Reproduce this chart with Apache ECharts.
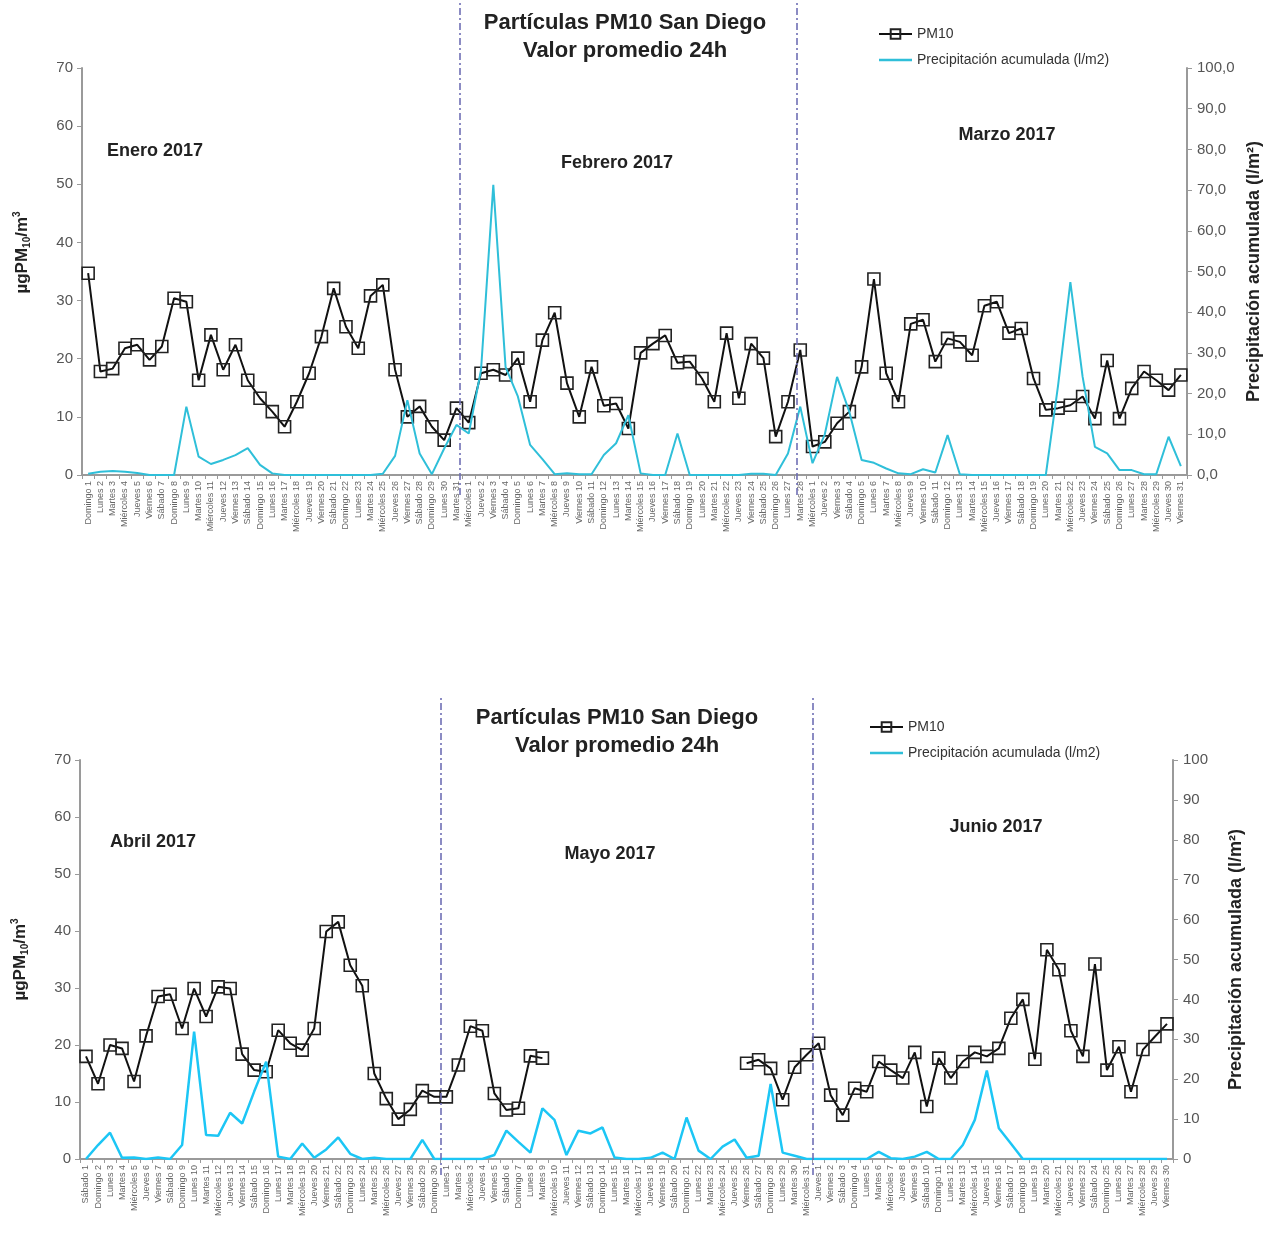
<!DOCTYPE html>
<html>
<head>
<meta charset="utf-8">
<script src="https://cdn.jsdelivr.net/npm/echarts@6/dist/echarts.min.js"></script>
<style>
html,body{margin:0;padding:0;background:#fff;}
#chart{width:1274px;height:1247px;}
</style>
</head>
<body>
<div id="chart"></div>
<script>
// ---------- labels ----------
const WEEKDAYS = ["Domingo","Lunes","Martes","Miércoles","Jueves","Viernes","Sábado"];
const monthsTop = [31, 28, 31];      // Enero, Febrero, Marzo 2017
const startWeekdayTop = 0;           // 1 enero 2017 = domingo
const monthsBottom = [30, 31, 30];   // Abril, Mayo, Junio 2017
const startWeekdayBottom = 6;        // 1 abril 2017 = sábado

const monthLabelsTop = ["Enero 2017", "Febrero 2017", "Marzo 2017"];
const monthLabelsBottom = ["Abril 2017", "Mayo 2017", "Junio 2017"];

const leftTicks = [0, 70, 10];
const rightTicks = [0, 100, 10];

// ---------- data: enero-marzo ----------
const pm10Jan = [34.7,17.8,18.3,21.8,22.4,19.8,22.1,30.4,29.8,16.3,24.1,18.1,22.4,16.3,13.2,10.9,8.3,12.6,17.5,23.8,32.1,25.5,21.8,30.8,32.7,18.1,10.0,11.8,8.3,6.0,11.5];
const pm10Feb = [9.0,17.5,18.1,17.2,20.1,12.6,23.2,27.9,15.8,10.0,18.6,11.9,12.3,8.0,21.0,22.6,24.0,19.3,19.5,16.6,12.6,24.4,13.2,22.6,20.1,6.6,12.6,21.5];
const pm10Mar = [4.9,5.7,8.9,10.9,18.6,33.7,17.5,12.6,26.0,26.7,19.5,23.5,22.9,20.6,29.1,29.8,24.4,25.2,16.6,11.2,11.5,12.0,13.5,9.7,19.7,9.7,14.9,17.8,16.3,14.6,17.2];
const rainJan = [0.3,0.8,1.0,0.8,0.5,0,0,0,16.8,4.5,2.7,3.7,4.9,6.6,2.5,0.4,0,0,0,0,0,0,0,0,0.3,4.7,18.4,5.3,0.2,6.5,12.3];
const rainFeb = [10.2,25.8,71.3,26.5,19.3,7.4,3.9,0.2,0.4,0.2,0.2,4.9,7.8,14.7,0.4,0,0,10.2,0,0,0,0,0,0.3,0.3,0,5.3,16.8];
const rainMar = [2.9,10.0,24.1,15.5,3.7,3.0,1.6,0.4,0.2,1.4,0.6,9.8,0.2,0,0,0,0,0,0,0,22.0,47.4,24.1,6.9,5.3,1.2,1.2,0.2,0.2,9.4,2.2];

// ---------- data: abril-junio ----------
const pm10Apr = [18.0,13.2,20.0,19.4,13.6,21.6,28.5,28.9,22.9,29.9,25.0,30.2,29.9,18.4,15.6,15.3,22.6,20.3,19.1,22.9,39.9,41.6,34.0,30.4,15.0,10.6,7.0,8.7,12.0,10.9];
const pm10May = [10.9,16.5,23.3,22.5,11.5,8.6,8.9,18.1,17.7,null,null,null,null,null,null,null,null,null,null,null,null,null,null,null,null,16.8,17.4,15.9,10.4,16.1,18.3];
const pm10Jun = [20.3,11.2,7.7,12.4,11.8,17.1,15.6,14.2,18.7,9.2,17.7,14.2,17.1,18.7,18.0,19.4,24.7,28.0,17.5,36.7,33.2,22.5,18.0,34.2,15.6,19.7,11.8,19.2,21.5,23.7];
const rainApr = [0,3.5,6.6,0.3,0.4,0,0.4,0,3.5,31.9,6.0,5.8,11.6,8.9,16.9,24.4,0.6,0,3.9,0.3,2.4,5.4,1.3,0,0.3,0,0,0,4.8,0];
const rainMay = [0,0,0,0,1.0,7.1,4.3,1.6,12.7,9.8,1.0,7.1,6.4,7.9,0.4,0,0,0.3,1.6,0,10.4,2.1,0,3.1,4.9,0.3,0.8,18.8,1.6,0.8,0];
const rainJun = [0,0,0,0,0,1.8,0.2,0,0.6,1.8,0,0,3.5,9.8,22.2,7.7,3.9,0,0,0,0,0,0,0,0,0,0,0,0,0];

// ---------- build ----------
function buildDays(startWd, lens) {
  const out = []; let wd = startWd;
  lens.forEach(n => { for (let d = 1; d <= n; d++) { out.push(WEEKDAYS[wd] + " " + d); wd = (wd + 1) % 7; } });
  return out;
}
const catsTop = buildDays(startWeekdayTop, monthsTop);
const catsBottom = buildDays(startWeekdayBottom, monthsBottom);
const pm10Top = pm10Jan.concat(pm10Feb, pm10Mar);
const rainTop = rainJan.concat(rainFeb, rainMar);
const pm10Bottom = pm10Apr.concat(pm10May, pm10Jun);
const rainBottom = rainApr.concat(rainMay, rainJun);
const sepTop = [30.75, 58.25];
const sepBottom = [monthsBottom[0], monthsBottom[0] + monthsBottom[1]];

const FONT = "Liberation Sans, Arial, sans-serif";
const AXIS_GREY = "#9a9a9a";
const LABEL_GREY = "#555";
const PM_NAME = "PM10";
const RAIN_NAME = "Precipitación acumulada (l/m2)";

function catAxis(gridIndex, data) {
  return {
    type: "category", gridIndex, data, boundaryGap: true,
    axisLine: {lineStyle: {color: AXIS_GREY, width: 2}},
    axisTick: {show: true, interval: 0, length: 4, lineStyle: {color: AXIS_GREY}},
    axisLabel: {interval: 0, rotate: 90, fontSize: 9, color: "#666", margin: 6, fontFamily: FONT},
    splitLine: {show: false}
  };
}
function leftAxis(gridIndex, shift) {
  return {
    type: "value", gridIndex, min: leftTicks[0], max: leftTicks[1], interval: leftTicks[2], position: "left",
    axisLine: {show: true, lineStyle: {color: AXIS_GREY, width: 2}},
    axisTick: {show: true, length: 5, lineStyle: {color: AXIS_GREY}},
    axisLabel: {fontSize: 15, color: LABEL_GREY, margin: 9, fontFamily: FONT},
    splitLine: {show: false},
    name: "{a|µgPM}{s|10}{a|/m}{p|3}", nameLocation: "middle", nameRotate: 90, nameGap: 50,
    nameTextStyle: {fontFamily: FONT, color: "#222", padding: [0, 0, 0, shift],
      rich: {
      a: {fontSize: 17, fontWeight: "bold", lineHeight: 20, verticalAlign: "middle", fontFamily: FONT, color: "#222"},
      s: {fontSize: 10, fontWeight: "bold", lineHeight: 20, verticalAlign: "bottom", fontFamily: FONT, color: "#222"},
      p: {fontSize: 10, fontWeight: "bold", lineHeight: 20, verticalAlign: "top", fontFamily: FONT, color: "#222"}
    }}
  };
}
function rightAxis(gridIndex, decimals) {
  return {
    type: "value", gridIndex, min: rightTicks[0], max: rightTicks[1], interval: rightTicks[2], position: "right",
    axisLine: {show: true, lineStyle: {color: AXIS_GREY, width: 2}},
    axisTick: {show: true, length: 5, lineStyle: {color: AXIS_GREY}},
    axisLabel: {fontSize: 15, color: LABEL_GREY, margin: 10, fontFamily: FONT,
      formatter: v => decimals ? v.toFixed(1).replace(".", ",") : String(v)},
    splitLine: {show: false},
    name: "Precipitación acumulada (l/m²)", nameLocation: "middle", nameRotate: 90, nameGap: 54,
    nameTextStyle: {fontSize: 18, fontWeight: "bold", color: "#222", fontFamily: FONT}
  };
}
function hiddenX(gridIndex, max) { return {type: "value", gridIndex, min: 0, max, show: false}; }
function hiddenY(gridIndex) { return {type: "value", gridIndex, min: 0, max: 1, show: false}; }

function pmSeries(x, y, data) {
  return {
    name: PM_NAME, type: "line", xAxisIndex: x, yAxisIndex: y, data,
    symbol: "rect", symbolSize: 12, showSymbol: true, connectNulls: false,
    lineStyle: {color: "#111", width: 2},
    itemStyle: {color: "rgba(255,255,255,0)", borderColor: "#222", borderWidth: 1.6},
    emphasis: {disabled: true}, z: 3
  };
}
function rainSeries(x, y, data, color, width) {
  return {
    name: RAIN_NAME, type: "line", xAxisIndex: x, yAxisIndex: y, data,
    symbol: "none", showSymbol: false, lineStyle: {color, width}, itemStyle: {color},
    emphasis: {disabled: true}, z: 4
  };
}
function sepSeries(x, y, positions) {
  return {
    type: "line", xAxisIndex: x, yAxisIndex: y, data: [[0, -1]], showSymbol: false, silent: true,
    lineStyle: {opacity: 0},
    markLine: {silent: true, symbol: ["none", "none"], label: {show: false},
      lineStyle: {color: "#6f6fb5", width: 1.6, type: [7, 3, 2, 3]},
      data: positions.map(p => ({xAxis: p}))}
  };
}
function monthText(x, y, text) {
  return {type: "text", x, y, silent: true,
    style: {text, font: "bold 18px " + FONT, fill: "#222", textAlign: "center", textVerticalAlign: "middle"}};
}
function legendAt(left, top) {
  return {orient: "vertical", left, top, itemWidth: 33, itemHeight: 12, itemGap: 12,
    textStyle: {fontSize: 14, color: "#333", fontFamily: FONT}, selectedMode: false,
    data: [{name: PM_NAME}, {name: RAIN_NAME, icon: "path://M0,0L33,0L33,2.5L0,2.5Z"}]};
}
function titleAt(left, top) {
  return {text: "Partículas PM10 San Diego\nValor promedio 24h", left, top, textAlign: "center",
    textStyle: {fontSize: 22, fontWeight: "bold", lineHeight: 28, color: "#222", fontFamily: FONT}};
}

const option = {
  animation: false,
  backgroundColor: "#fff",
  textStyle: {fontFamily: FONT},
  title: [titleAt(620, 4), titleAt(612, 699)],
  legend: [legendAt(873, 22), legendAt(864, 715)],
  grid: [
    {left: 82, width: 1105, top: 68, height: 407},
    {left: 82, width: 1105, top: 2, height: 493},
    {left: 80, width: 1093, top: 760, height: 399},
    {left: 80, width: 1093, top: 697, height: 478}
  ],
  xAxis: [catAxis(0, catsTop), hiddenX(1, catsTop.length), catAxis(2, catsBottom), hiddenX(3, catsBottom.length)],
  yAxis: [leftAxis(0, 38), rightAxis(0, true), hiddenY(1), leftAxis(2, 0), rightAxis(2, false), hiddenY(3)],
  series: [
    sepSeries(1, 2, sepTop),
    pmSeries(0, 0, pm10Top),
    rainSeries(0, 1, rainTop, "#2fbfd9", 2),
    sepSeries(3, 5, sepBottom),
    pmSeries(2, 3, pm10Bottom),
    rainSeries(2, 4, rainBottom, "#1cc6f5", 2.5)
  ],
  graphic: [
    monthText(155, 151, monthLabelsTop[0]),
    monthText(617, 163, monthLabelsTop[1]),
    monthText(1007, 135, monthLabelsTop[2]),
    monthText(153, 842, monthLabelsBottom[0]),
    monthText(610, 854, monthLabelsBottom[1]),
    monthText(996, 827, monthLabelsBottom[2])
  ]
};
const chart = echarts.init(document.getElementById("chart"), null, {renderer: "canvas"});
chart.setOption(option);
</script>
</body>
</html>
